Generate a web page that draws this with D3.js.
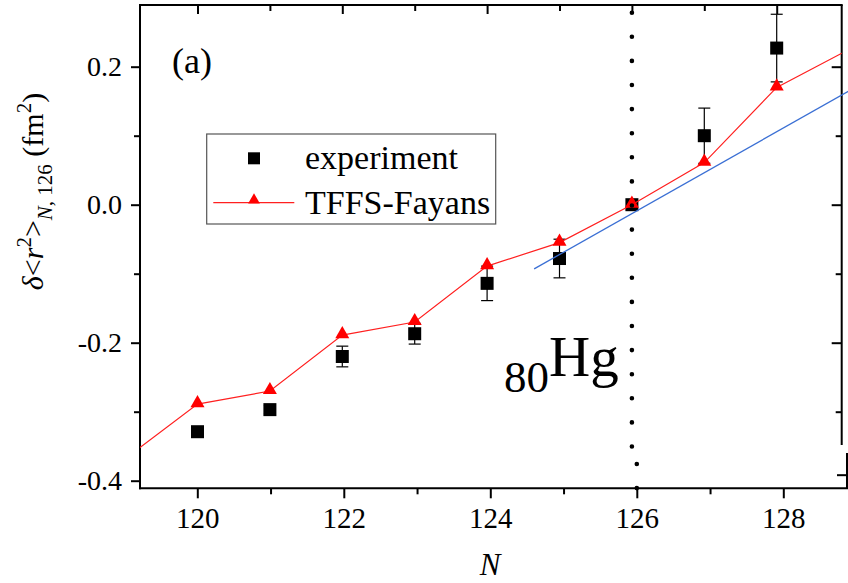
<!DOCTYPE html>
<html>
<head>
<meta charset="utf-8">
<script src="https://cdn.jsdelivr.net/npm/d3@7"></script>
</head>
<body style="margin:0; background:#fff">
<svg></svg>
<script>
// neutron numbers and values
let nValues = [120, 121, 122, 123, 124, 125, 126, 127, 128];
let expValues = [-0.329, -0.297, -0.220, -0.187, -0.114, -0.078, 0.0, 0.100, 0.227];
let expErrors = [0, 0.006, 0.015, 0.015, 0.025, 0.028, 0, 0.040, 0.049];

let theoN = [119, 120, 121, 122, 123, 124, 125, 126, 127, 128, 129];
let theoValues = [-0.368, -0.289, -0.270, -0.189, -0.170, -0.089, -0.055, 0.0, 0.061, 0.170, 0.225];

let fitN = [124.65, 129.0];
let fitValues = [-0.093, 0.165];

let majorY = [-0.4, -0.2, 0.0, 0.2];
let minorY = [-0.3, -0.1, 0.1];
let majorX = [120, 122, 124, 126, 128];
let minorX = [121, 123, 125, 127];

let width = 848;
let height = 583;
let plotLeft = 140, plotRight = 841.7, plotTop = 5, plotBottom = 488.3;
let serifFont = "Liberation Serif, Times New Roman, serif";

let root = d3.select("svg")
  .attr("width", width)
  .attr("height", height)
  .style("display", "block");

// everything hangs off a group so the font is not lost to any svg-level rule
let svg = root.append("g").attr("font-family", serifFont).style("font-family", serifFont);

// scales (bottom axis of the figure is a hair wider than the data/top axis)
let xScale = d3.scaleLinear().domain([120, 128]).range([197.5, 776.7]);
let xBottom = d3.scaleLinear().domain([120, 128]).range([197.3, 783.3]);
let yScale = d3.scaleLinear().domain([-0.4, 0.2]).range([480.7, 66.7]);

let fmtY = (d) => d3.format(".1f")(d).replace("\u2212", "-");

root.append("defs").append("clipPath").attr("id", "clip")
  .append("rect")
  .attr("x", plotLeft).attr("y", plotTop)
  .attr("width", plotRight - plotLeft).attr("height", plotBottom - plotTop);

// axes
function styleAxis(g) {
  g.attr("font-family", serifFont);
  g.select(".domain").remove();
  g.selectAll(".tick line").attr("stroke", "#000").attr("stroke-width", 2);
  g.selectAll(".tick text").attr("fill", "#000").style("font-family", serifFont);
}

svg.append("g").attr("transform", `translate(0,${plotBottom})`)
  .call(d3.axisBottom(xBottom).tickValues(majorX).tickSize(10).tickPadding(9).tickFormat(d3.format("d")))
  .call(styleAxis)
  .attr("font-size", 29);
svg.append("g").attr("transform", `translate(0,${plotBottom})`)
  .call(d3.axisBottom(xBottom).tickValues(minorX).tickSize(6).tickFormat(""))
  .call(styleAxis);

svg.append("g").attr("transform", `translate(0,${plotTop})`)
  .call(d3.axisBottom(xScale).tickValues(majorX).tickSize(9).tickFormat(""))
  .call(styleAxis);
svg.append("g").attr("transform", `translate(0,${plotTop})`)
  .call(d3.axisBottom(xScale).tickValues(minorX).tickSize(6).tickFormat(""))
  .call(styleAxis);

svg.append("g").attr("transform", `translate(${plotLeft},0)`)
  .call(d3.axisLeft(yScale).tickValues(majorY).tickSize(9).tickPadding(9).tickFormat(fmtY))
  .call(styleAxis)
  .attr("font-size", 28);
svg.append("g").attr("transform", `translate(${plotLeft},0)`)
  .call(d3.axisLeft(yScale).tickValues(minorY).tickSize(6).tickFormat(""))
  .call(styleAxis);

svg.append("g").attr("transform", `translate(${plotRight},0)`)
  .call(d3.axisLeft(yScale).tickValues(majorY.filter((d) => d > -0.35)).tickSize(10).tickFormat(""))
  .call(styleAxis);
svg.append("g").attr("transform", `translate(${plotRight},0)`)
  .call(d3.axisLeft(yScale).tickValues(minorY).tickSize(6).tickFormat(""))
  .call(styleAxis);

// frame
let frame = svg.append("g").attr("stroke", "#000").attr("stroke-width", 2).attr("fill", "none");
frame.append("line").attr("x1", plotLeft).attr("x2", plotLeft).attr("y1", plotTop).attr("y2", plotBottom + 1);
frame.append("line").attr("x1", plotLeft - 1).attr("x2", plotRight + 1).attr("y1", plotTop).attr("y2", plotTop);
frame.append("line").attr("x1", plotLeft - 1).attr("x2", 848).attr("y1", plotBottom).attr("y2", plotBottom);
frame.append("line").attr("x1", plotRight).attr("x2", plotRight).attr("y1", plotTop).attr("y2", 445);
frame.append("line").attr("x1", 847).attr("x2", 847).attr("y1", 453).attr("y2", plotBottom);
frame.append("line").attr("x1", 837).attr("x2", 847).attr("y1", yScale(-0.392)).attr("y2", yScale(-0.392));

// experiment error bars
let expData = nValues.map((n, i) => ({ n: n, v: expValues[i], e: expErrors[i] }));
let errG = svg.append("g").attr("stroke", "#000").attr("stroke-width", 1.2);
expData.filter((d) => d.e > 0).forEach((d) => {
  let x = xScale(d.n);
  errG.append("line").attr("x1", x).attr("x2", x)
    .attr("y1", yScale(d.v + d.e)).attr("y2", yScale(d.v - d.e));
  [d.v + d.e, d.v - d.e].forEach((v) => {
    errG.append("line").attr("x1", x - 6).attr("x2", x + 6)
      .attr("y1", yScale(v)).attr("y2", yScale(v));
  });
});

// experiment squares
svg.append("g").selectAll("rect")
  .data(expData)
  .enter()
  .append("rect")
  .attr("x", (d) => xScale(d.n) - 6.5)
  .attr("y", (d) => yScale(d.v) - 6.5)
  .attr("width", 13)
  .attr("height", 13)
  .attr("fill", "#000");

// TFFS-Fayans line + triangles
let theoData = theoN.map((n, i) => ({ n: n, v: theoValues[i] }));
let line = d3.line().x((d) => xScale(d.n)).y((d) => yScale(d.v));
let theoG = svg.append("g").attr("clip-path", "url(#clip)");
theoG.append("path")
  .attr("d", line(theoData))
  .attr("fill", "none")
  .attr("stroke", "#ff2020")
  .attr("stroke-width", 1.2);
theoG.selectAll("path.tri")
  .data(theoData)
  .enter()
  .append("path")
  .attr("class", "tri")
  .attr("d", d3.symbol().type(d3.symbolTriangle).size(85))
  .attr("transform", (d) => `translate(${xScale(d.n)},${yScale(d.v) - 1})`)
  .attr("fill", "#ff0000");

// linear fit line
let fitData = fitN.map((n, i) => ({ n: n, v: fitValues[i] }));
svg.append("path")
  .attr("d", line(fitData))
  .attr("fill", "none")
  .attr("stroke", "#3a6fd4")
  .attr("stroke-width", 1.3);

// dotted N = 126 line
svg.append("line")
  .attr("x1", xScale(126)).attr("x2", xScale(126))
  .attr("y1", 12.7).attr("y2", 447)
  .attr("stroke", "#000").attr("stroke-width", 4.6)
  .attr("stroke-linecap", "round").attr("stroke-dasharray", "0 24.1");
svg.append("line")
  .attr("x1", xBottom(126)).attr("x2", xBottom(126))
  .attr("y1", 464).attr("y2", 489)
  .attr("stroke", "#000").attr("stroke-width", 4.6)
  .attr("stroke-linecap", "round").attr("stroke-dasharray", "0 24.1");

// legend
let legend = svg.append("g").attr("font-size", 34);
legend.append("rect")
  .attr("x", 206.7).attr("y", 134).attr("width", 289).attr("height", 90)
  .attr("fill", "#fff").attr("stroke", "#555").attr("stroke-width", 1.2);
legend.append("rect")
  .attr("x", 248).attr("y", 152.3).attr("width", 12).attr("height", 12).attr("fill", "#000");
legend.append("line")
  .attr("x1", 213.3).attr("x2", 294.3).attr("y1", 202.7).attr("y2", 202.7)
  .attr("stroke", "#ff2020").attr("stroke-width", 1.2);
legend.append("path")
  .attr("d", d3.symbol().type(d3.symbolTriangle).size(60))
  .attr("transform", "translate(254,200)")
  .attr("fill", "#ff0000");
legend.append("text").attr("x", 305).attr("y", 169.3).text("experiment");
legend.append("text").attr("x", 305).attr("y", 214).text("TFFS-Fayans");

// annotations
svg.append("text").attr("x", 172).attr("y", 73)
  .attr("font-size", 36).text("(a)");

let hg = svg.append("text").attr("x", 504).attr("y", 391.7);
hg.append("tspan").attr("font-size", 45).text("80");
hg.append("tspan").attr("dy", -15.7).attr("font-size", 57).text("Hg");

// axis titles
svg.append("text")
  .attr("x", 490).attr("y", 575)
  .attr("text-anchor", "middle")
  .attr("font-size", 31).attr("font-style", "italic")
  .text("N");

let yl = svg.append("text")
  .attr("transform", "translate(43,191.5) rotate(-90)")
  .attr("text-anchor", "middle")
  .attr("font-size", 30);
yl.append("tspan").attr("font-style", "italic").text("\u03b4");
yl.append("tspan").text("<");
yl.append("tspan").attr("font-style", "italic").text("r");
yl.append("tspan").attr("dy", -12).attr("font-size", 21).text("2");
yl.append("tspan").attr("dy", 12).text(">");
yl.append("tspan").attr("dy", 9).attr("font-size", 21).attr("font-style", "italic").text("N");
yl.append("tspan").attr("font-size", 21).text(", 126");
yl.append("tspan").attr("dy", -9).text(" (fm");
yl.append("tspan").attr("dy", -12).attr("font-size", 21).text("2");
yl.append("tspan").attr("dy", 12).text(")");
</script>
</body>
</html>
